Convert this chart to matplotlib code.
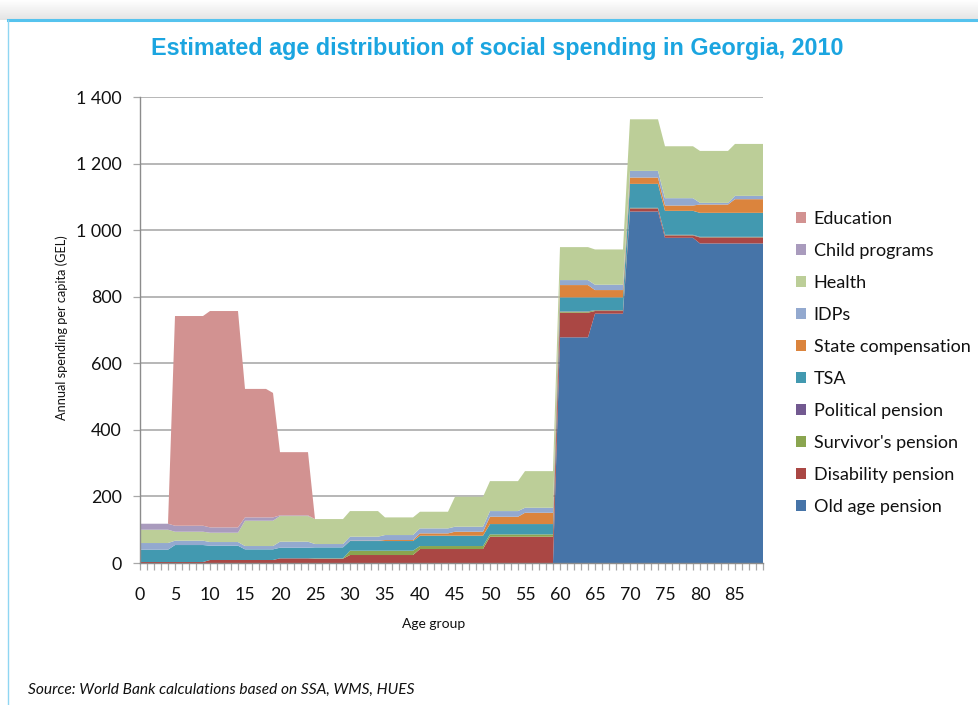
import numpy as np
import matplotlib
matplotlib.use("Agg")
import matplotlib.pyplot as plt
from matplotlib.patches import Patch
from matplotlib.lines import Line2D
from matplotlib.ticker import FuncFormatter, MultipleLocator

# Age bands: first age of each band and band width in single years of age
band_start = [0, 5, 10, 15, 19, 20, 25, 30, 35, 40, 45, 50, 55, 60, 65, 70, 75, 80, 85]
band_width = [5, 5, 5, 4, 1, 5, 5, 5, 5, 5, 5, 5, 5, 5, 5, 5, 5, 5, 5]

# Annual spending per capita (GEL) by programme, one value per age band
old_age_pension = [0, 0, 0, 0, 0, 0, 0, 0, 0, 0, 0, 0, 0, 678, 749, 1056, 977, 960, 960]
disability_pension = [3, 3, 9, 9, 9, 14, 13, 24, 24, 42, 42, 79, 79, 74, 8, 9, 7, 18, 18]
survivors_pension = [0, 0, 0, 0, 0, 0, 1, 13, 13, 9, 9, 7, 7, 3, 2, 1, 1, 1, 1]
political_pension = [0, 0, 0, 0, 0, 0, 0, 0, 0, 0, 0, 0, 0, 1, 1, 1, 1, 1, 1]
tsa = [37, 51, 43, 32, 32, 32, 33, 29, 29, 31, 31, 31, 31, 42, 38, 72, 72, 72, 72]
state_compensation = [0, 0, 0, 0, 0, 0, 0, 1, 3, 7, 12, 22, 34, 37, 22, 19, 16, 25, 41]
idps = [20, 13, 11, 10, 10, 18, 10, 12, 15, 15, 15, 17, 15, 15, 16, 20, 22, 5, 10]
health = [40, 27, 28, 76, 76, 77, 75, 77, 53, 50, 90, 90, 110, 99, 106, 155, 156, 156, 156]
child_programs = [18, 18, 16, 10, 10, 2, 0, 0, 0, 0, 0, 0, 0, 0, 0, 0, 0, 0, 0]
education = [0, 630, 650, 386, 374, 190, 0, 0, 0, 0, 0, 0, 0, 0, 0, 0, 0, 0, 0]

x_tick_labels = [str(a) for a in range(0, 90, 5)]

series = [
    ("Old age pension", old_age_pension, "#4674A8"),
    ("Disability pension", disability_pension, "#AA4744"),
    ("Survivor's pension", survivors_pension, "#8AA54F"),
    ("Political pension", political_pension, "#725990"),
    ("TSA", tsa, "#4299B0"),
    ("State compensation", state_compensation, "#DB843D"),
    ("IDPs", idps, "#93A9CF"),
    ("Health", health, "#BCCE98"),
    ("Child programs", child_programs, "#A99BBD"),
    ("Education", education, "#D29291"),
]

ages = np.arange(band_start[-1] + band_width[-1])
stack = [np.repeat(vals, band_width) for _, vals, _ in series]

W, H = 979, 705
fig = plt.figure(figsize=(W / 100, H / 100), dpi=100)
fig.patch.set_facecolor("white")

# frame: soft shadow, light-blue top rule and left rule
shadow = fig.add_axes([0, 1 - 20 / H, 1, 20 / H])
grad = np.linspace(0.0, 1.0, 40).reshape(-1, 1)
shadow.imshow(grad, aspect="auto", cmap=matplotlib.colors.LinearSegmentedColormap.from_list(
    "sh", ["#FFFFFF", "#E4E4E4"]), extent=[0, 1, 0, 1])
shadow.set_axis_off()
fig.add_artist(Line2D([8 / W, 1], [1 - 20 / H, 1 - 20 / H], transform=fig.transFigure,
                      color="#55C3EE", lw=2.2))
fig.add_artist(Line2D([8 / W, 8 / W], [0, 1 - 20 / H], transform=fig.transFigure,
                      color="#8FD6F2", lw=1.0))

ax = fig.add_axes([140 / W, 1 - 563 / H, 623 / W, 466 / H])
ax.stackplot(ages, *stack, colors=[c for _, _, c in series], linewidth=0)

ax.set_xlim(0, 89)
ax.set_ylim(0, 1400)
ax.set_axisbelow(True)
ax.yaxis.grid(True, color="#A3A3A3", lw=1.1)
ax.xaxis.grid(False)

ax.set_xticks(np.arange(0, 90, 5))
ax.set_xticklabels(x_tick_labels)
ax.xaxis.set_minor_locator(MultipleLocator(1))
ax.yaxis.set_major_locator(MultipleLocator(200))
ax.yaxis.set_major_formatter(FuncFormatter(lambda v, p: f"{int(v):,}".replace(",", " ")))

for s in ["top", "right"]:
    ax.spines[s].set_visible(False)
for s in ["left", "bottom"]:
    ax.spines[s].set_color("#8C8C8C")
    ax.spines[s].set_linewidth(1.0)

tick_font = "Lato"
ax.tick_params(axis="x", which="both", direction="out", length=5, width=0.9,
               color="#A8A8A8", pad=12, labelsize=12.8, labelcolor="#111111")
ax.tick_params(axis="y", which="major", direction="out", length=5, width=0.9,
               color="#A8A8A8", pad=8, labelsize=12.8, labelcolor="#111111")
for lab in ax.get_xticklabels() + ax.get_yticklabels():
    lab.set_fontfamily(tick_font)

fig.text(497 / W, 1 - 48 / H, "Estimated age distribution of social spending in Georgia, 2010",
         ha="center", va="center", fontsize=16.8, fontweight="bold",
         color="#1BA5E0", family="Liberation Sans")
fig.text(62 / W, 1 - 328 / H, "Annual spending per capita (GEL)", rotation=90,
         ha="center", va="center", fontsize=9.2, family="Lato", color="#111111")
fig.text(434 / W, 1 - 624 / H, "Age group", ha="center", va="center",
         fontsize=10, family="Lato", color="#111111")
fig.text(28 / W, 1 - 690 / H, "Source: World Bank calculations based on SSA, WMS, HUES",
         ha="left", va="center", fontsize=11.2, style="italic", family="Lato",
         color="#111111")

handles = [Patch(facecolor=c, edgecolor="none") for _, _, c in series][::-1]
labels = [n for n, _, _ in series][::-1]
leg = fig.legend(handles, labels, loc="upper left",
                 bbox_to_anchor=(796 / W, 1 - 211 / H), bbox_transform=fig.transFigure,
                 frameon=False, borderpad=0, borderaxespad=0,
                 handlelength=0.58, handleheight=0.58, handletextpad=0.4,
                 labelspacing=0.885, prop={"family": "Lato", "size": 13})
for t in leg.get_texts():
    t.set_color("#111111")

fig.savefig("out.png", dpi=100)
